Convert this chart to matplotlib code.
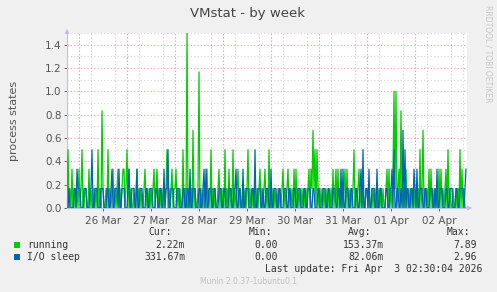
import matplotlib
matplotlib.use("Agg")
import matplotlib.pyplot as plt
import matplotlib.dates as mdates
import numpy as np
import pandas as pd

# ---- data: values in units of 1/6 process (30-minute samples) ----
start_time = "2026-03-25 18:00"
step = "30min"

running_mar25 = [0, 3, 0, 1, 0, 2, 0, 0, 1, 0, 1, 0]
running_mar26 = [2, 0, 1, 3, 0, 0, 1, 1, 0, 0, 2, 0, 1, 0, 0, 1, 0, 1, 0, 3, 0, 1, 0, 5,
                 1, 0, 0, 1, 0, 3, 0, 1, 0, 1, 2, 0, 1, 0, 1, 2, 0, 1, 0, 1, 2, 2, 0, 1]
running_mar27 = [3, 0, 2, 0, 1, 0, 0, 1, 0, 1, 2, 0, 1, 0, 1, 0, 0, 1, 2, 0, 1, 0, 1, 0,
                 1, 0, 1, 2, 0, 1, 2, 0, 1, 0, 1, 0, 1, 1, 0, 1, 3, 0, 1, 0, 1, 2, 0, 1]
running_mar28 = [1, 2, 0, 1, 0, 1, 0, 0, 3, 0, 1, 0, 9, 0, 1, 0, 1, 0, 4, 0, 1, 0, 0, 1,
                 7, 0, 1, 0, 1, 0, 0, 1, 2, 0, 1, 0, 3, 0, 1, 0, 1, 0, 0, 1, 2, 0, 1, 0]
running_mar29 = [1, 0, 3, 0, 1, 0, 2, 0, 1, 0, 3, 0, 1, 0, 1, 2, 0, 1, 0, 0, 1, 0, 1, 0,
                 1, 3, 0, 1, 0, 1, 0, 1, 0, 0, 1, 0, 1, 2, 0, 1, 0, 1, 2, 0, 1, 0, 3, 0]
running_mar30 = [1, 0, 1, 0, 1, 0, 0, 1, 0, 1, 0, 1, 2, 0, 1, 0, 1, 2, 0, 1, 0, 1, 0, 2,
                 0, 2, 0, 1, 0, 1, 0, 1, 0, 1, 0, 1, 0, 1, 2, 0, 2, 1, 4, 1, 3, 0, 3, 1]
running_mar31 = [0, 1, 0, 1, 0, 1, 0, 1, 0, 0, 1, 0, 1, 0, 2, 0, 1, 2, 0, 2, 0, 1, 0, 1,
                 0, 1, 2, 0, 2, 0, 1, 0, 1, 0, 1, 3, 0, 1, 0, 1, 2, 0, 1, 0, 1, 0, 0, 1]
running_apr01 = [1, 0, 1, 0, 0, 1, 0, 1, 0, 1, 0, 0, 1, 0, 1, 0, 1, 0, 0, 1, 2, 0, 2, 0,
                 1, 0, 2, 6, 1, 6, 0, 1, 2, 0, 5, 1, 0, 1, 0, 2, 0, 1, 0, 1, 0, 1, 0, 1]
running_apr02 = [0, 1, 0, 1, 0, 3, 0, 1, 4, 0, 1, 0, 1, 0, 2, 0, 2, 0, 1, 0, 1, 0, 1, 0,
                 2, 0, 2, 0, 1, 0, 1, 2, 0, 3, 0, 1, 0, 0, 1, 0, 0, 1, 0, 1, 0, 3, 0, 2]
running_apr03 = [0, 1, 0, 0]

iosleep_mar25 = [0, 0, 1, 0, 0, 0, 0, 1, 1, 0, 2, 1]
iosleep_mar26 = [1, 1, 0, 0, 0, 1, 1, 1, 0, 0, 0, 1, 1, 3, 0, 0, 1, 1, 1, 0, 0, 0, 1, 1,
                 1, 0, 0, 0, 1, 1, 0, 0, 1, 2, 0, 0, 1, 1, 1, 0, 2, 0, 0, 1, 1, 1, 0, 0]
iosleep_mar27 = [0, 1, 2, 0, 0, 1, 1, 1, 0, 0, 2, 0, 0, 1, 1, 1, 0, 0, 0, 1, 1, 0, 0, 1,
                 1, 1, 0, 0, 0, 1, 1, 0, 0, 1, 1, 0, 0, 2, 0, 1, 1, 3, 0, 0, 1, 1, 1, 0]
iosleep_mar28 = [0, 0, 1, 1, 1, 0, 0, 0, 1, 1, 0, 0, 1, 1, 0, 2, 0, 0, 1, 1, 1, 0, 0, 0,
                 1, 1, 0, 0, 1, 2, 0, 2, 0, 0, 1, 1, 1, 0, 0, 1, 1, 0, 0, 0, 1, 1, 1, 0]
iosleep_mar29 = [0, 1, 1, 0, 0, 0, 1, 1, 1, 0, 0, 1, 1, 2, 0, 0, 1, 1, 0, 0, 2, 0, 0, 1,
                 1, 1, 0, 0, 0, 1, 1, 0, 3, 0, 0, 1, 1, 1, 0, 0, 1, 0, 0, 1, 1, 1, 0, 0]
iosleep_mar30 = [2, 0, 0, 1, 1, 1, 0, 0, 1, 1, 0, 0, 0, 1, 1, 1, 0, 0, 1, 1, 0, 0, 0, 1,
                 1, 0, 0, 1, 1, 1, 0, 0, 0, 1, 1, 0, 0, 1, 1, 1, 0, 0, 1, 1, 0, 0, 0, 1]
iosleep_mar31 = [1, 0, 0, 0, 1, 1, 1, 0, 0, 1, 1, 0, 0, 0, 1, 1, 1, 0, 0, 1, 1, 0, 2, 0,
                 2, 0, 0, 1, 1, 1, 0, 0, 1, 1, 0, 0, 0, 1, 1, 0, 0, 1, 2, 0, 3, 0, 0, 1]
iosleep_apr01 = [1, 0, 2, 0, 0, 1, 1, 1, 0, 0, 2, 0, 0, 1, 1, 0, 0, 0, 0, 1, 1, 0, 0, 1,
                 1, 2, 0, 3, 0, 0, 1, 1, 0, 0, 1, 0, 4, 0, 3, 0, 1, 1, 0, 0, 1, 1, 0, 2]
iosleep_apr02 = [1, 0, 2, 0, 0, 1, 1, 1, 0, 0, 1, 1, 0, 0, 0, 1, 1, 1, 0, 0, 1, 0, 2, 0,
                 0, 1, 1, 1, 0, 0, 0, 1, 1, 0, 0, 1, 1, 1, 0, 0, 0, 1, 1, 0, 0, 1, 1, 1]
iosleep_apr03 = [1, 0, 1, 2]

day_labels = ["26 Mar", "27 Mar", "28 Mar", "29 Mar", "30 Mar", "31 Mar", "01 Apr", "02 Apr"]
series_names = ["running", "I/O sleep"]
series_colors = ["#00CC00", "#0066B3"]
stats_cur = ["2.22m", "331.67m"]
stats_min = ["0.00", "0.00"]
stats_avg = ["153.37m", "82.06m"]
stats_max = ["7.89", "2.96"]

running = np.concatenate([running_mar25, running_mar26, running_mar27, running_mar28,
                          running_mar29, running_mar30, running_mar31, running_apr01,
                          running_apr02, running_apr03]) / 6.0
iosleep = np.concatenate([iosleep_mar25, iosleep_mar26, iosleep_mar27, iosleep_mar28,
                          iosleep_mar29, iosleep_mar30, iosleep_mar31, iosleep_apr01,
                          iosleep_apr02, iosleep_apr03]) / 6.0
times = pd.date_range(start_time, periods=len(running), freq=step)

# ---- figure ----
W, H = 497, 292
fig = plt.figure(figsize=(W / 100, H / 100), dpi=100, facecolor="#F0F0F0")
ax = fig.add_axes([67 / W, (H - 208) / H, 400 / W, 175 / H], facecolor="white")

ax.plot(times, running, color=series_colors[0], lw=0.9, zorder=3)
ax.plot(times, iosleep, color=series_colors[1], lw=0.9, zorder=4)

x0 = times[0]
x1 = times[0] + pd.Timedelta(step) * len(running)
ax.set_xlim(x0, x1)
ax.set_ylim(0, 1.5)

# grid
ax.yaxis.set_major_locator(plt.MultipleLocator(0.2))
ax.yaxis.set_minor_locator(plt.MultipleLocator(0.1))
ax.xaxis.set_minor_locator(mdates.HourLocator(byhour=[0, 6, 12, 18]))
noon = pd.date_range("2026-03-26 12:00", periods=len(day_labels), freq="1D")
ax.set_xticks(noon)
ax.set_xticklabels(day_labels)
ax.grid(which="minor", axis="both", color="#d4d4d4", lw=0.8, linestyle=(0, (1, 2)), zorder=1)
ax.grid(which="major", axis="y", color="#f0a0a0", lw=0.8, linestyle=(0, (1, 2)), zorder=2)
for d in pd.date_range("2026-03-26", periods=8, freq="1D"):
    ax.axvline(d, color="#f0a0a0", lw=0.8, linestyle=(0, (1, 2)), zorder=2)

ax.yaxis.set_major_formatter(plt.FuncFormatter(lambda v, p: f"{v:.1f}"))
ax.tick_params(axis="both", which="major", labelsize=7.5, colors="#555555", length=2, width=0.6, pad=2)
ax.tick_params(axis="both", which="minor", length=0)
ax.tick_params(axis="x", pad=4)
for s in ["top", "right"]:
    ax.spines[s].set_visible(False)
for s in ["left", "bottom"]:
    ax.spines[s].set_color("#c0c0e8")
    ax.spines[s].set_linewidth(0.8)
# axis arrows
ax.annotate("", xy=(0, 1.04), xycoords="axes fraction", xytext=(0, 0.98),
            arrowprops=dict(arrowstyle="-|>", color="#c0c0f0", lw=0.8, mutation_scale=6), annotation_clip=False)
ax.annotate("", xy=(1.02, 0), xycoords="axes fraction", xytext=(0.99, 0),
            arrowprops=dict(arrowstyle="-|>", color="#c0c0f0", lw=0.8, mutation_scale=6), annotation_clip=False)

ax.set_ylabel("process states", fontsize=8, color="#555555")
ax.yaxis.set_label_coords((19 - 67) / 400, 0.5)

fig.text(248 / W, 1 - 13 / H, "VMstat - by week", ha="center", va="center", fontsize=9.5, color="#444444")
fig.text(488 / W, 1 - 5 / H, "RRDTOOL / TOBI OETIKER", rotation=270, ha="center", va="top",
         fontsize=5.5, color="#c8c8c8")

# legend / stats
mono = "DejaVu Sans Mono"
fs = 7
hy = 1 - 232 / H
fig.text(172 / W, hy, "Cur:", ha="right", va="center", fontsize=fs, family=mono, color="#333333")
fig.text(272 / W, hy, "Min:", ha="right", va="center", fontsize=fs, family=mono, color="#333333")
fig.text(371 / W, hy, "Avg:", ha="right", va="center", fontsize=fs, family=mono, color="#333333")
fig.text(470 / W, hy, "Max:", ha="right", va="center", fontsize=fs, family=mono, color="#333333")
rows_y = [245, 257]
for i in range(2):
    y = 1 - rows_y[i] / H
    fig.patches.append(plt.Rectangle((14 / W, y - 3 / H), 6 / W, 6 / H, transform=fig.transFigure,
                                     facecolor=series_colors[i], edgecolor="none"))
    fig.text(27 / W, y, series_names[i], ha="left", va="center", fontsize=fs, family=mono, color="#333333")
    fig.text(185 / W, y, stats_cur[i], ha="right", va="center", fontsize=fs, family=mono, color="#333333")
    fig.text(278 / W, y, stats_min[i], ha="right", va="center", fontsize=fs, family=mono, color="#333333")
    fig.text(384 / W, y, stats_avg[i], ha="right", va="center", fontsize=fs, family=mono, color="#333333")
    fig.text(477 / W, y, stats_max[i], ha="right", va="center", fontsize=fs, family=mono, color="#333333")
fig.text(482 / W, 1 - 269 / H, "Last update: Fri Apr  3 02:30:04 2026", ha="right", va="center",
         fontsize=fs, family=mono, color="#333333")
fig.text(248 / W, 1 - 281 / H, "Munin 2.0.37-1ubuntu0.1", ha="center", va="center",
         fontsize=5.5, color="#c0c0c0")

fig.savefig("out.png", dpi=100, facecolor=fig.get_facecolor())
